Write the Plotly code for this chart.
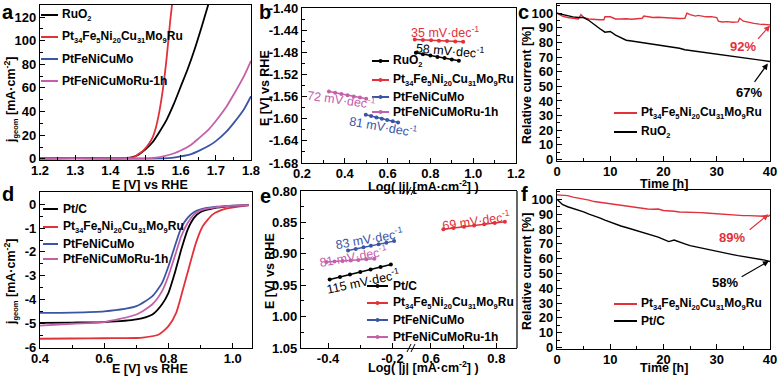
import plotly.graph_objects as go

FONT = "Liberation Sans"
BLACK = "#000000"
RED = "#e2313b"
BLUE = "#3b55a5"
PINK = "#c460aa"


def sub(s):
    return "<sub><span style='font-size:7.5px'>" + s + "</span></sub>"


PT_NAME = "Pt" + sub("34") + "Fe" + sub("5") + "Ni" + sub("20") + "Cu" + sub("31") + "Mo" + sub("9") + "Ru"
RUO2 = "RuO" + sub("2")

# ---------------- panel a: OER LSV ----------------
a_E_ruo2 = [1.20, 1.30, 1.40, 1.44, 1.46, 1.48, 1.50, 1.52, 1.54, 1.56, 1.58, 1.60, 1.62, 1.64, 1.66, 1.68]
a_j_ruo2 = [0.3, 0.6, 0.4, 0.6, 1.2, 3.5, 8, 14, 23, 33, 46, 61, 76, 93, 112, 132]
a_E_pt = [1.20, 1.30, 1.40, 1.44, 1.46, 1.47, 1.48, 1.49, 1.50, 1.51, 1.52, 1.53, 1.54, 1.55, 1.56, 1.57, 1.576]
a_j_pt = [0.3, 0.8, 0.4, 0.6, 1.0, 2, 4, 6, 9, 13, 18, 27, 41, 60, 85, 116, 132]
a_E_mo = [1.20, 1.30, 1.40, 1.50, 1.55, 1.58, 1.60, 1.63, 1.65, 1.68, 1.70, 1.73, 1.75, 1.78, 1.80]
a_j_mo = [0.2, 0.5, 0.3, 0.2, 0.3, 1.0, 2, 4, 6.5, 11, 15, 23, 30, 42, 53]
a_E_ru1h = [1.20, 1.30, 1.40, 1.50, 1.53, 1.55, 1.58, 1.60, 1.63, 1.65, 1.68, 1.70, 1.73, 1.75, 1.78, 1.80]
a_j_ru1h = [0.2, 0.5, 0.3, 0.4, 1.0, 2, 4.5, 7, 12, 17, 25, 32, 44, 54, 70, 83]

# ---------------- panel b: OER Tafel ----------------
b_x_ruo2 = [0.732, 0.765, 0.800, 0.833, 0.866, 0.900, 0.933]
b_y_ruo2 = [-1.481, -1.4835, -1.486, -1.4885, -1.4905, -1.493, -1.4952]
b_x_pt = [0.727, 0.765, 0.803, 0.840, 0.878, 0.916, 0.953]
b_y_pt = [-1.457, -1.4577, -1.4583, -1.459, -1.4597, -1.4603, -1.461]
b_x_mo = [0.498, 0.523, 0.548, 0.573, 0.598, 0.624, 0.649]
b_y_mo = [-1.593, -1.5953, -1.5977, -1.600, -1.6023, -1.6047, -1.607]
b_x_ru1h = [0.326, 0.355, 0.384, 0.413, 0.442, 0.471, 0.500]
b_y_ru1h = [-1.551, -1.5532, -1.5553, -1.5575, -1.5597, -1.5618, -1.564]
b_yticks = [-1.68, -1.64, -1.60, -1.56, -1.52, -1.48, -1.44, -1.40]
b_yticktext = ["-1.68", "-1.64", "-1.60", "-1.56", "-1.52", "-1.48", "-1.44", "-1.40"]

# ---------------- panel c: OER stability ----------------
c_t_pt = [0, 1, 2, 3, 4, 4.5, 5, 6, 7, 8, 8.8, 9, 10, 11, 12, 13, 14, 15, 16, 16.3, 17, 18, 19, 20, 21, 22, 23,
          24, 24.4, 25, 26, 26.5, 27, 28, 29, 30, 30.3, 31, 32, 33, 34, 34.3, 35, 36, 37, 38, 39, 40]
c_v_pt = [100, 98, 97, 96.5, 96, 99, 97, 96, 95.5, 95.5, 95.5, 97.5, 97.5, 96, 96, 96.2, 95.8, 96, 96.5, 98, 97.5,
          97, 97.2, 97, 96.5, 96.6, 96.4, 96.5, 100, 99, 98, 98.5, 98, 97.5, 97.6, 97, 94.5, 94, 94.2, 93.8, 94,
          96.5, 94.5, 93.5, 93, 92.5, 92, 92]
c_t_ruo2 = list(range(0, 41))
c_v_ruo2 = [100, 99, 98, 97.5, 97, 97, 95, 92, 89.5, 87, 87.5, 85, 83, 81.5, 81, 80.5, 80, 79.5, 79, 78.5, 78,
            77.5, 77, 76, 75, 74.5, 74, 73.5, 73, 72.5, 72, 71.5, 71, 70.5, 70, 69.5, 69, 68.5, 68, 67.5, 67]

# ---------------- panel d: ORR LSV ----------------
d_E = [0.40, 0.50, 0.60, 0.70, 0.75, 0.78, 0.80, 0.82, 0.84, 0.86, 0.88, 0.90, 0.95, 1.00, 1.05]
d_j_ptc = [-4.98, -4.97, -4.95, -4.84, -4.63, -4.2, -3.72, -2.87, -1.89, -1.05, -0.56, -0.32, -0.14, -0.06, -0.03]
d_j_mo = [-4.56, -4.55, -4.5, -4.28, -3.86, -3.3, -2.6, -1.75, -0.98, -0.56, -0.32, -0.21, -0.1, -0.05, -0.03]
d_j_ru1h = [-5.1, -5.02, -4.95, -4.63, -4.2, -3.65, -3.0, -2.17, -1.33, -0.77, -0.42, -0.25, -0.12, -0.05, -0.03]
d_E_pt = [0.40, 0.50, 0.60, 0.70, 0.72, 0.77, 0.80, 0.824, 0.845, 0.865, 0.886, 0.907, 0.938, 0.979, 1.05]
d_j_pt = [-5.65, -5.64, -5.63, -5.62, -5.6, -5.47, -5.12, -4.56, -3.58, -2.6, -1.6, -0.91, -0.42, -0.18, -0.04]
d_yticks = [0, -1, -2, -3, -4, -5, -6]
d_yticktext = ["0", "-1", "-2", "-3", "-4", "-5", "-6"]

# ---------------- panel e: ORR Tafel ----------------
e_x_ptc = [-0.395, -0.363, -0.332, -0.300, -0.268, -0.237, -0.205]
e_y_ptc = [0.941, 0.937, 0.933, 0.929, 0.925, 0.921, 0.917]
e_x_pt = [0.638, 0.669, 0.701, 0.732, 0.763, 0.795, 0.826]
e_y_pt = [0.861, 0.859, 0.857, 0.855, 0.853, 0.851, 0.849]
e_x_mo = [-0.338, -0.314, -0.290, -0.267, -0.243, -0.219, -0.195]
e_y_mo = [0.8947, 0.8922, 0.8897, 0.8872, 0.8848, 0.8823, 0.8798]
e_x_ru1h = [-0.405, -0.380, -0.355, -0.330, -0.306, -0.281, -0.256]
e_y_ru1h = [0.913, 0.9122, 0.9113, 0.9105, 0.9097, 0.9088, 0.908]
e_xticks_left = [-0.4, -0.2]
e_xticktext_left = ["-0.4", "-0.2"]

# ---------------- panel f: ORR stability ----------------
f_t_pt = list(range(0, 40)) + [39.7, 40]
f_v_pt = [103, 103, 102.5, 101.5, 101, 100, 99.5, 98.5, 98, 97, 96.5, 96, 95.5, 95, 94.5, 94, 93.8, 93.5, 93.3,
          93.5, 92.5, 92.5, 92, 91.5, 91.5, 91, 91, 91, 90.8, 90.5, 90.5, 90, 90, 89.5, 89.5, 89, 89, 88.8, 88.8,
          88.5, 88.5, 89.5]
f_t_ptc = list(range(0, 41))
f_v_ptc = [100, 96.5, 95, 94, 92.5, 91.5, 90, 89, 87.5, 86, 84.5, 83, 82, 81, 80, 79, 78, 76.5, 75.5, 74.5, 73,
           71.5, 72.5, 71, 70, 68.8, 68, 67, 66.2, 65.5, 64.7, 64, 63.3, 62.7, 62, 61.4, 60.8, 60.3, 59.8, 59, 58]


def P(x):
    return x / 779.0


def Q(y):
    return 1 - y / 376.0


fig = go.Figure()


def line(x, y, color, xa, ya, width=1.8, shape="spline", markers=False):
    fig.add_trace(go.Scatter(
        x=x, y=y, xaxis=xa, yaxis=ya, mode="lines+markers" if markers else "lines",
        line=dict(color=color, width=width, shape=shape, smoothing=0.6),
        marker=dict(size=4, color=color), showlegend=False, hoverinfo="skip"))


# a
line(a_E_ruo2, a_j_ruo2, BLACK, "x", "y")
line(a_E_pt, a_j_pt, RED, "x", "y")
line(a_E_mo, a_j_mo, BLUE, "x", "y")
line(a_E_ru1h, a_j_ru1h, PINK, "x", "y")
# b
line(b_x_ruo2, b_y_ruo2, BLACK, "x2", "y2", 1.5, "linear", True)
line(b_x_pt, b_y_pt, RED, "x2", "y2", 1.5, "linear", True)
line(b_x_mo, b_y_mo, BLUE, "x2", "y2", 1.5, "linear", True)
line(b_x_ru1h, b_y_ru1h, PINK, "x2", "y2", 1.5, "linear", True)
# c
line(c_t_pt, c_v_pt, RED, "x3", "y3", 1.4, "linear")
line(c_t_ruo2, c_v_ruo2, BLACK, "x3", "y3", 1.4, "linear")
# d
line(d_E, d_j_ptc, BLACK, "x4", "y4")
line(d_E_pt, d_j_pt, RED, "x4", "y4")
line(d_E, d_j_mo, BLUE, "x4", "y4")
line(d_E, d_j_ru1h, PINK, "x4", "y4")
# e
line(e_x_ptc, e_y_ptc, BLACK, "x5", "y5", 1.5, "linear", True)
line(e_x_pt, e_y_pt, RED, "x6", "y5", 1.5, "linear", True)
line(e_x_mo, e_y_mo, BLUE, "x5", "y5", 1.5, "linear", True)
line(e_x_ru1h, e_y_ru1h, PINK, "x5", "y5", 1.5, "linear", True)
# f
line(f_t_pt, f_v_pt, RED, "x7", "y7", 1.4, "linear")
line(f_t_ptc, f_v_ptc, BLACK, "x7", "y7", 1.4, "linear")

TICKFONT = dict(family=FONT, size=13, color="black", weight="bold")


def axis(domain, rng, dtick, minor, anchor, tick0=0, fmt=None, mirror=True, vals=None, txt=None, xax=False):
    d = dict(domain=domain, range=rng, anchor=anchor, showline=True, linecolor="black",
             linewidth=1.2, mirror=mirror, ticks="inside", ticklen=5, tickwidth=1.2, tickcolor="black",
             showgrid=False, zeroline=False, tickfont=TICKFONT, automargin=False,
             minor=dict(ticks="inside", ticklen=3, tickwidth=1, tickcolor="black", tickmode="linear",
                        tick0=tick0, dtick=minor))
    if xax:
        d["ticklabelstandoff"] = -2
    if vals is not None:
        d.update(tickmode="array", tickvals=vals, ticktext=txt)
    else:
        d.update(tickmode="linear", tick0=tick0, dtick=dtick)
    if fmt:
        d["tickformat"] = fmt
    return d


fig.update_layout(
    template="none",
    width=779, height=376, margin=dict(l=0, r=0, t=0, b=0),
    paper_bgcolor="white", plot_bgcolor="white", showlegend=False,
    xaxis=axis([P(40), P(251)], [1.2, 1.8], 0.1, 0.05, "y", 1.2, ".1f", xax=True),
    yaxis=axis([Q(160), Q(5)], [-1, 130.2], 20, 10, "x", 0),
    xaxis2=axis([P(302), P(516)], [0.2, 1.2], 0.2, 0.1, "y2", 0.2, ".1f", xax=True),
    yaxis2=axis([Q(163), Q(8)], [-1.68, -1.40], 0.04, 0.02, "x2", -1.68, vals=b_yticks, txt=b_yticktext),
    xaxis3=axis([P(557), P(770)], [0, 40], 10, 5, "y3", 0, xax=True),
    yaxis3=axis([Q(161), Q(3.5)], [-1, 106.6], 10, 5, "x3", 0),
    xaxis4=axis([P(40), P(252)], [0.4, 1.06], 0.2, 0.1, "y4", 0.4, ".1f", xax=True),
    yaxis4=axis([Q(348), Q(192)], [-6.04, 0.52], 1, 0.5, "x4", 0, vals=d_yticks, txt=d_yticktext),
    xaxis5=axis([P(301), P(411)], [-0.484, -0.1425], 0.2, 0.1, "y5", -0.4, vals=e_xticks_left,
                txt=e_xticktext_left, xax=True),
    xaxis6=axis([P(411), P(517)], [0.539, 0.863], 0.2, 0.1, "y5", 0.6, ".1f", xax=True),
    yaxis5=axis([Q(348), Q(191)], [1.05, 0.80], 0.05, 0.025, "x5", 0.8, ".2f", mirror=False),
    xaxis7=axis([P(557), P(770)], [0, 40], 10, 5, "y7", 0, xax=True),
    yaxis7=axis([Q(349), Q(190)], [-1, 106.3], 10, 5, "x7", 0),
)

ann = []
shapes = []


def text(x, y, s, size=13, color="black", angle=0, bold=True, xref="paper", yref="paper", xanchor="center",
         yanchor="middle"):
    ann.append(dict(x=x, y=y, xref=xref, yref=yref, text=s, showarrow=False, textangle=angle,
                    xanchor=xanchor, yanchor=yanchor, borderpad=0,
                    font=dict(family=FONT, size=size, color=color, weight="bold" if bold else "normal")))


# panel letters
for lab, x, y in [("a", 8, 0), ("b", 265, 0), ("c", 523, 0), ("d", 8, 182), ("e", 265, 184), ("f", 524, 182)]:
    text(P(x), Q(y), lab, size=20, yanchor="top")

# axis titles
JG = "j" + sub("geom") + " [mA·cm<sup>-2</sup>]"
LG = "Log( |j| [mA·cm<sup>-2</sup>] )"
TT = 12.5
text(P(150), Q(185), "E [V] vs RHE", size=TT)
text(P(11), Q(100), JG, angle=-90, size=TT)
text(P(423), Q(186), LG, size=TT)
text(P(265), Q(88), "E [V] vs RHE", angle=-90, size=TT)
text(P(664), Q(184), "Time [h]", size=TT)
text(P(527), Q(86), "Relative current [%]", angle=-90, size=TT)
text(P(150), Q(368.5), "E [V] vs RHE", size=TT)
text(P(11), Q(282), JG, angle=-90, size=TT)
text(P(423), Q(367), LG, size=TT)
text(P(270), Q(271), "E [V] vs RHE", angle=-90, size=TT)
text(P(664), Q(368), "Time [h]", size=TT)
text(P(527), Q(272), "Relative current [%]", angle=-90, size=TT)

# Tafel slope labels
TS = " mV·dec<sup>-1</sup>"
text(0.868, -1.443, "35" + TS, color=RED, xref="x2", yref="y2", bold=False, size=12.5)
text(0.891, -1.475, "58" + TS, color=BLACK, xref="x2", yref="y2", angle=5, bold=False, size=12.5)
text(0.384, -1.565, "72" + TS, color=PINK, xref="x2", yref="y2", angle=8, bold=False, size=12.5)
text(0.579, -1.614, "81" + TS, color=BLUE, xref="x2", yref="y2", angle=10, bold=False, size=12.5)
text(-0.272, 0.875, "83" + TS, color=BLUE, xref="x5", yref="y5", angle=-10, bold=False, size=12.5)
text(-0.323, 0.903, "81" + TS, color=PINK, xref="x5", yref="y5", angle=-10, bold=False, size=12.5)
text(-0.292, 0.944, "115" + TS, color=BLACK, xref="x5", yref="y5", angle=-12, bold=False, size=12.5)
text(0.738, 0.846, "69" + TS, color=RED, xref="x6", yref="y5", angle=-8, bold=False, size=12.5)

# stability percentages and arrows
text(35, 77, "92%", color=RED, xref="x3", yref="y3")
text(36, 45.7, "67%", color=BLACK, xref="x3", yref="y3")
text(32.8, 74.2, "89%", color=RED, xref="x7", yref="y7")
text(31.6, 44, "58%", color=BLACK, xref="x7", yref="y7")
for (hx, hy, tx, ty, col, xr, yr) in [(40, 91.6, 37.5, 81.4, RED, "x3", "y3"),
                                       (39.6, 65.6, 36.9, 52, BLACK, "x3", "y3"),
                                       (39.7, 89.9, 35.9, 78.7, RED, "x7", "y7"),
                                       (39.8, 58.4, 34.4, 47.2, BLACK, "x7", "y7")]:
    ann.append(dict(x=hx, y=hy, ax=tx, ay=ty, xref=xr, yref=yr, axref=xr, ayref=yr, text="",
                    showarrow=True, arrowhead=2, arrowsize=1, arrowwidth=1.2, arrowcolor=col))


# manual legends
def legend(x0, x1, xt, rows, markers=False, size=12):
    for (y, col, s) in rows:
        shapes.append(dict(type="line", xref="paper", yref="paper", x0=P(x0), x1=P(x1), y0=Q(y), y1=Q(y),
                           line=dict(color=col, width=2)))
        if markers:
            xm = (x0 + x1) / 2
            shapes.append(dict(type="circle", xref="paper", yref="paper", x0=P(xm - 2), x1=P(xm + 2),
                               y0=Q(y + 2), y1=Q(y - 2), fillcolor=col, line=dict(color=col, width=0)))
        text(P(xt), Q(y), s, size=size, xanchor="left")


legend(41, 58, 61, [(15, BLACK, RUO2), (37, RED, PT_NAME), (59, BLUE, "PtFeNiCuMo"),
                    (81, PINK, "PtFeNiCuMoRu-1h")])
legend(372, 389, 392, [(61, BLACK, RUO2), (80, RED, PT_NAME), (97, BLUE, "PtFeNiCuMo"),
                       (112, PINK, "PtFeNiCuMoRu-1h")], markers=True)
legend(614, 637, 640, [(113, RED, PT_NAME), (132, BLACK, RUO2)])
legend(43, 58, 62, [(209, BLACK, "Pt/C"), (227, RED, PT_NAME), (244, BLUE, "PtFeNiCuMo"),
                    (259, PINK, "PtFeNiCuMoRu-1h")])
legend(367, 388, 392, [(286, BLACK, "Pt/C"), (303, RED, PT_NAME), (320, BLUE, "PtFeNiCuMo"),
                       (337, PINK, "PtFeNiCuMoRu-1h")], markers=True)
legend(614, 637, 640, [(304, RED, PT_NAME), (321, BLACK, "Pt/C")])

# right border of panel e and axis break marks
shapes.append(dict(type="line", xref="paper", yref="paper", x0=P(517), x1=P(517), y0=Q(348), y1=Q(191),
                   line=dict(color="black", width=1.2)))
for yb in (191, 348):
    for dx in (-2, 2):
        shapes.append(dict(type="line", xref="paper", yref="paper", x0=P(411 + dx - 2), x1=P(411 + dx + 2),
                           y0=Q(yb + 4), y1=Q(yb - 4), line=dict(color="black", width=1)))

fig.update_layout(annotations=ann, shapes=shapes)
fig.write_html("out.html", config={"displayModeBar": False},
               post_script="document.body.style.margin='0';document.body.style.padding='0';")
